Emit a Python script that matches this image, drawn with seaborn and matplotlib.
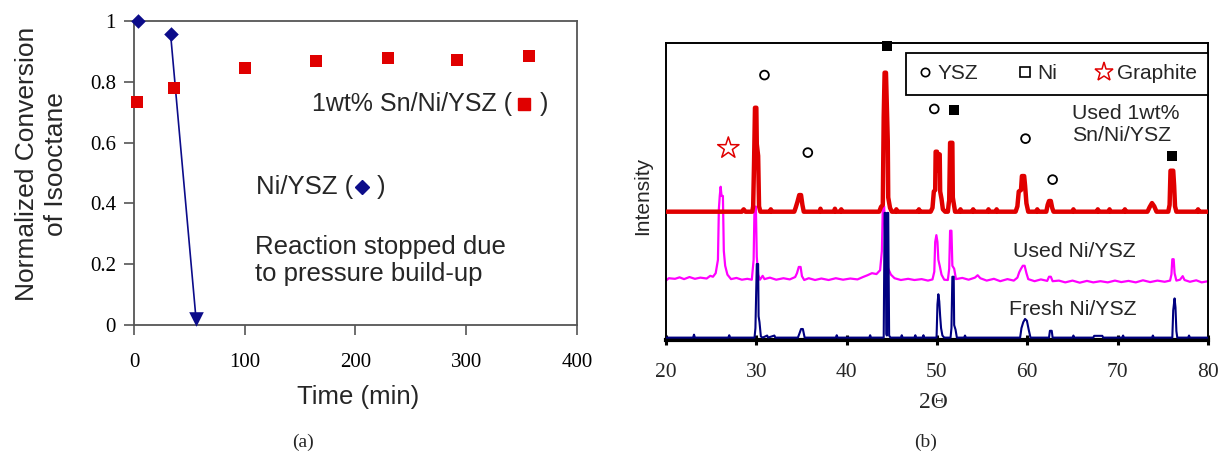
import matplotlib
matplotlib.use("Agg")
import matplotlib.pyplot as plt
from matplotlib.lines import Line2D
import pandas as pd
import seaborn as sns

# ---------------- panel (a): isooctane conversion vs time ----------------
sn_time = [3, 36, 100, 164, 229, 292, 357]
sn_conv = [0.734, 0.781, 0.847, 0.869, 0.878, 0.873, 0.884]
ni_time = [4, 33, 56]
ni_conv = [1.0, 0.958, 0.02]

time_ticks = [0, 100, 200, 300, 400]
conv_ticks = [0, 0.2, 0.4, 0.6, 0.8, 1.0]
conv_tick_labels = ["0", "0.2", "0.4", "0.6", "0.8", "1"]

# ---------------- panel (b): XRD patterns (2-theta, offset intensity) ----------------
sn_used_pattern = [
    (20.0, 43.2), (28.4, 43.2), (28.6, 44.0), (28.8, 43.2),
    (29.55, 43.2), (29.65, 45.0), (29.75, 60.0), (29.85, 78.2), (30.0, 78.2), (30.05, 66.0),
    (30.2, 62.0), (30.3, 45.0), (30.45, 43.2), (31.5, 43.2), (31.6, 44.0), (31.7, 43.2),
    (34.2, 43.2), (34.35, 44.5), (34.55, 46.5), (34.75, 48.8), (34.95, 48.8), (35.1, 45.5), (35.25, 43.2),
    (37.0, 43.2), (37.1, 44.2), (37.2, 43.2), (38.6, 43.2), (38.7, 44.2), (38.8, 43.2),
    (39.3, 43.2), (39.4, 44.0), (39.5, 43.2),
    (43.6, 43.2), (43.8, 44.8), (44.0, 45.5), (44.1, 75.0), (44.2, 90.0), (44.35, 90.0),
    (44.45, 78.0), (44.55, 67.0), (44.6, 48.0), (44.8, 44.5), (45.0, 43.2),
    (45.4, 43.2), (45.5, 44.0), (45.6, 43.2), (47.9, 43.2), (48.0, 44.0), (48.1, 43.2),
    (49.3, 43.2), (49.5, 44.5), (49.65, 50.0), (49.8, 50.5), (49.85, 63.4), (50.0, 63.4),
    (50.05, 57.0), (50.15, 62.5), (50.3, 62.5), (50.35, 50.0), (50.5, 47.5), (50.65, 44.0),
    (50.9, 43.2), (51.2, 43.2), (51.3, 46.0), (51.35, 47.0), (51.45, 66.4), (51.7, 66.4),
    (51.75, 48.0), (51.9, 45.0), (52.0, 43.2),
    (52.5, 43.2), (52.6, 44.0), (52.7, 43.2), (53.9, 43.2), (54.0, 44.0), (54.1, 43.2),
    (55.6, 43.2), (55.7, 44.0), (55.8, 43.2), (56.5, 43.2), (56.6, 44.0), (56.7, 43.2),
    (58.7, 43.2), (58.9, 45.0), (59.05, 50.0), (59.3, 50.5), (59.4, 55.2), (59.65, 55.2),
    (59.75, 52.0), (59.9, 46.0), (60.1, 43.2),
    (61.0, 43.2), (61.1, 44.0), (61.2, 43.2),
    (62.1, 43.2), (62.25, 45.5), (62.4, 46.8), (62.6, 46.8), (62.75, 44.5), (62.9, 43.2),
    (65.0, 43.2), (65.1, 44.0), (65.2, 43.2), (67.7, 43.2), (67.8, 44.0), (67.9, 43.2),
    (69.0, 43.2), (69.1, 44.0), (69.2, 43.2), (70.7, 43.2), (70.8, 44.0), (70.9, 43.2),
    (73.3, 43.2), (73.55, 44.8), (73.8, 46.1), (74.05, 45.0), (74.3, 43.2),
    (75.6, 43.2), (75.75, 45.5), (75.85, 57.0), (76.15, 57.0), (76.25, 52.0), (76.35, 45.0), (76.5, 43.2),
    (78.8, 43.2), (78.9, 44.0), (79.0, 43.2), (80.0, 43.2),
]

ni_used_pattern = [
    (20.0, 20.0), (20.3, 20.8), (21.0, 20.6), (21.5, 21.1), (22.0, 20.5), (22.6, 21.2),
    (23.2, 20.6), (23.8, 21.0), (24.5, 20.7), (24.9, 21.6), (25.2, 21.3), (25.5, 22.5),
    (25.75, 27.0), (25.85, 44.0), (25.95, 48.5), (26.05, 51.6), (26.15, 48.5), (26.3, 48.5),
    (26.4, 30.0), (26.55, 25.0), (26.8, 22.0), (27.2, 20.5), (27.8, 20.9), (28.4, 20.3),
    (29.0, 20.6), (29.5, 20.3),
    (29.7, 27.0), (29.8, 44.9), (29.95, 44.9), (30.05, 28.0), (30.2, 22.0), (30.4, 20.3),
    (30.7, 21.6), (30.9, 20.5), (31.5, 21.0), (32.2, 20.3), (33.0, 20.8), (33.7, 20.4), (34.3, 21.2),
    (34.5, 22.5), (34.7, 24.6), (34.9, 24.6), (35.05, 21.5), (35.3, 20.2), (35.8, 20.8),
    (36.5, 20.2), (37.2, 20.7), (38.0, 20.2), (38.8, 20.8), (39.6, 20.3), (40.4, 20.7),
    (41.2, 20.4), (41.8, 21.2), (42.3, 21.8), (42.8, 22.5), (43.3, 22.2), (43.7, 23.5),
    (43.9, 30.0), (44.0, 45.0), (44.15, 45.0), (44.3, 30.0), (44.45, 26.0), (44.6, 24.0),
    (44.9, 22.0), (45.3, 20.8), (46.0, 20.2), (46.8, 20.6), (47.5, 20.2), (48.3, 20.5),
    (49.0, 20.0), (49.5, 20.4),
    (49.7, 23.0), (49.8, 33.0), (49.93, 35.3), (50.05, 33.0), (50.15, 27.0), (50.3, 25.0),
    (50.5, 22.0), (50.8, 20.3), (51.2, 20.2), (51.35, 24.0),
    (51.45, 36.8), (51.6, 36.8), (51.7, 25.0), (51.9, 24.0), (52.1, 20.5), (52.8, 20.9),
    (53.5, 20.3), (54.2, 21.0), (54.5, 21.8), (54.8, 20.8), (55.5, 20.0), (56.3, 20.6),
    (57.0, 19.8), (57.8, 20.5), (58.5, 20.0), (58.9, 21.0),
    (59.1, 22.8), (59.3, 24.0), (59.5, 25.0), (59.7, 25.0), (59.9, 22.5), (60.1, 20.5),
    (60.8, 19.8), (61.5, 20.4), (62.2, 19.9), (62.4, 21.3), (62.6, 21.3), (62.8, 19.8),
    (63.5, 20.0), (64.2, 19.4), (65.0, 20.0), (65.8, 19.3), (66.6, 19.9), (67.3, 19.4),
    (68.1, 19.8), (68.9, 19.4), (69.7, 20.0), (70.4, 19.5), (71.2, 19.9), (72.0, 19.4),
    (72.8, 20.1), (73.6, 19.5), (74.4, 20.0), (75.2, 19.6), (75.8, 20.0),
    (75.95, 22.0), (76.05, 27.2), (76.2, 27.2), (76.3, 22.5), (76.5, 20.0), (76.9, 20.3),
    (77.2, 21.5), (77.4, 20.2), (78.0, 19.6), (78.7, 20.1), (79.3, 19.4), (80.0, 19.8),
]

ni_fresh_pattern = [
    (20.0, 0.8), (23.0, 0.8), (23.1, 1.8), (23.2, 0.8), (26.9, 0.8), (27.0, 1.6), (27.1, 0.8),
    (29.8, 0.8), (29.9, 4.0), (30.05, 25.6), (30.2, 25.6), (30.25, 8.0), (30.35, 6.0),
    (30.5, 1.2), (30.7, 0.8), (31.2, 1.5), (31.3, 0.8), (32.0, 1.5), (32.1, 0.8),
    (34.6, 0.8), (34.75, 2.0), (34.95, 3.7), (35.15, 3.7), (35.35, 0.8),
    (38.8, 0.8), (38.9, 1.6), (39.0, 0.8), (42.5, 0.8), (42.6, 1.6), (42.7, 0.8),
    (44.1, 0.8), (44.2, 42.8), (44.3, 42.8), (44.4, 2.0), (44.45, 1.5), (44.5, 42.8),
    (44.6, 42.8), (44.7, 1.5), (44.85, 0.8),
    (46.0, 0.8), (46.1, 1.6), (46.2, 0.8), (47.5, 0.8), (47.6, 1.6), (47.7, 0.8),
    (48.4, 0.8), (48.5, 1.6), (48.6, 0.8),
    (49.95, 0.8), (50.05, 12.0), (50.15, 15.4), (50.25, 13.0), (50.35, 8.0), (50.45, 4.0),
    (50.6, 1.5), (50.8, 0.8),
    (51.5, 0.8), (51.6, 4.0), (51.7, 21.3), (51.85, 21.3), (51.9, 5.0), (52.05, 3.5), (52.2, 0.8),
    (53.0, 0.8), (53.1, 1.5), (53.2, 0.8),
    (59.2, 0.8), (59.35, 4.0), (59.55, 6.0), (59.75, 7.1), (59.95, 6.5), (60.15, 3.5), (60.35, 0.8),
    (62.4, 0.8), (62.5, 3.1), (62.7, 3.1), (62.8, 0.8),
    (65.0, 0.8), (65.1, 1.5), (65.2, 0.8), (67.3, 0.8), (67.4, 1.4), (68.3, 1.4), (68.4, 0.8),
    (70.5, 0.8), (70.6, 1.5), (70.7, 0.8), (73.8, 0.8), (73.9, 1.5), (74.0, 0.8),
    (76.05, 0.8), (76.15, 10.0), (76.3, 14.0), (76.4, 11.0), (76.5, 3.0), (76.6, 0.8),
    (77.8, 0.8), (77.9, 1.5), (78.0, 0.8), (80.0, 0.8),
]

# phase markers above the patterns
ysz_2theta = [30.9, 35.7, 49.7, 59.8, 62.8]
ysz_level = [89.2, 63.1, 77.8, 67.8, 54.0]
ni_2theta = [44.5, 51.9, 76.0]
ni_level = [99.0, 77.4, 61.8]
graphite_2theta = [26.9]
graphite_level = [64.6]

two_theta_ticks = [20, 30, 40, 50, 60, 70, 80]

SANS = ["Liberation Sans", "DejaVu Sans"]
SERIF = ["Liberation Serif", "DejaVu Serif"]
RED = "#e00000"
NAVY = "#0c0c8a"
GREY = "#555555"

sns.set_theme(style="white")
plt.rcParams["font.family"] = SANS

fig = plt.figure(figsize=(12.19, 4.51), dpi=100)
ax1 = fig.add_axes([134 / 1219, 1 - 325 / 451, 443 / 1219, 304 / 451])
ax2 = fig.add_axes([666 / 1219, 1 - 340 / 451, 542 / 1219, 297 / 451])

# ---------- panel (a) ----------
sn_df = pd.DataFrame({"time": sn_time, "conv": sn_conv})
ni_df = pd.DataFrame({"time": ni_time, "conv": ni_conv})

sns.lineplot(data=ni_df.iloc[1:], x="time", y="conv", ax=ax1, color=NAVY,
             linewidth=1.2, estimator=None, sort=False, legend=False)
sns.scatterplot(data=ni_df.iloc[:2], x="time", y="conv", ax=ax1, marker="D",
                s=55, color=NAVY, edgecolor=NAVY, linewidth=0, clip_on=False, zorder=5)
sns.scatterplot(data=ni_df.iloc[2:], x="time", y="conv", ax=ax1, marker="v",
                s=110, color=NAVY, edgecolor=NAVY, linewidth=0, clip_on=False, zorder=5)
sns.scatterplot(data=sn_df, x="time", y="conv", ax=ax1, marker="s",
                s=75, color=RED, edgecolor=RED, linewidth=0, clip_on=False, zorder=4)

ax1.set_xlim(0, 400)
ax1.set_ylim(0, 1)
ax1.set_xticks(time_ticks)
ax1.set_xticklabels([str(t) for t in time_ticks], family=SERIF)
ax1.set_yticks(conv_ticks)
ax1.set_yticklabels(conv_tick_labels, family=SERIF)
ax1.tick_params(axis="both", direction="out", length=7, width=1.2, color=GREY,
                labelsize=15, labelcolor="black", left=True, bottom=True)
ax1.tick_params(axis="x", pad=13)
ax1.tick_params(axis="y", pad=6)
for sp in ax1.spines.values():
    sp.set_color(GREY)
    sp.set_linewidth(1.3)

ax1.set_xlabel("Time (min)", fontsize=18.5, family=SANS, va="center", ha="center")
ax1.xaxis.set_label_coords(0.505, -0.237)
ax1.set_ylabel("Normalized Conversion\nof Isooctane", fontsize=19, family=SANS,
               va="center", ha="center", linespacing=1.25)
ax1.yaxis.set_label_coords(-0.208, 0.53)

ax1.text(161, 0.728, "1wt% Sn/Ni/YSZ (", fontsize=18, family=SANS, ha="left", va="center")
ax1.plot([352], [0.728], marker="s", markersize=9, color=RED, linestyle="none")
ax1.text(366, 0.728, ")", fontsize=18, family=SANS, ha="left", va="center")

ax1.text(110, 0.455, "Ni/YSZ (", fontsize=18.5, family=SANS, ha="left", va="center")
ax1.plot([206], [0.455], marker="D", markersize=7, color=NAVY, linestyle="none")
ax1.text(219, 0.455, ")", fontsize=18.5, family=SANS, ha="left", va="center")

ax1.text(109, 0.212, "Reaction stopped due\nto pressure build-up", fontsize=18.5,
         family=SANS, ha="left", va="center", linespacing=1.2)

# ---------- panel (b) ----------
traces = [
    (ni_used_pattern, "#ff00ff", 1.6, 2),
    (ni_fresh_pattern, "#000080", 1.5, 3),
    (sn_used_pattern, RED, 3.2, 4),
]
for pattern, color, lw, z in traces:
    df = pd.DataFrame(pattern, columns=["two_theta", "intensity"])
    sns.lineplot(data=df, x="two_theta", y="intensity", ax=ax2, color=color,
                 linewidth=lw, estimator=None, sort=False, legend=False, zorder=z)

ysz_df = pd.DataFrame({"two_theta": ysz_2theta, "level": ysz_level})
ni_df2 = pd.DataFrame({"two_theta": ni_2theta, "level": ni_level})
gr_df = pd.DataFrame({"two_theta": graphite_2theta, "level": graphite_level})
sns.scatterplot(data=ysz_df, x="two_theta", y="level", ax=ax2, marker="o", s=40,
                facecolor="none", edgecolor="black", linewidth=1.3, zorder=6)
sns.scatterplot(data=ni_df2, x="two_theta", y="level", ax=ax2, marker="s", s=50,
                color="black", edgecolor="black", linewidth=0, clip_on=False, zorder=6)
sns.scatterplot(data=gr_df, x="two_theta", y="level", ax=ax2, marker="*", s=260,
                facecolor="none", edgecolor=RED, linewidth=1.1, zorder=6)

ax2.set_xlim(20, 80)
ax2.set_ylim(0, 100)
ax2.set_yticks([])
ax2.set_xticks(two_theta_ticks)
ax2.set_xticklabels([str(t) for t in two_theta_ticks], family=SERIF)
ax2.tick_params(axis="x", direction="inout", length=7, width=2.2, color="black",
                labelsize=15.5, pad=13, bottom=True)
for name, sp in ax2.spines.items():
    sp.set_color("black")
    sp.set_linewidth(3.0 if name == "bottom" else 1.4)

ax2.set_xlabel("2\u0398", fontsize=17, family=SERIF, va="center", ha="center")
ax2.xaxis.set_label_coords(0.4926, -0.209)
ax2.set_ylabel("Intensity", fontsize=15, family=SANS, va="center", ha="center")
ax2.yaxis.set_label_coords(-0.0424, 0.485)

handles = [
    Line2D([], [], marker="o", markersize=6, markerfacecolor="none", markeredgecolor="black",
           markeredgewidth=1.2, linestyle="none"),
    Line2D([], [], marker="s", markersize=7, markerfacecolor="none", markeredgecolor="black",
           markeredgewidth=1.2, linestyle="none"),
    Line2D([], [], marker="*", markersize=14, markerfacecolor="none", markeredgecolor=RED,
           markeredgewidth=1.1, linestyle="none"),
]
leg = ax2.legend(handles, ["YSZ", "Ni", "Graphite"], ncol=3, loc="upper right",
                 bbox_to_anchor=(1.0, 0.967), frameon=True, fancybox=False,
                 edgecolor="black", framealpha=1, fontsize=15, handlelength=0.7,
                 handletextpad=0.25, columnspacing=1.9, borderpad=0.55, borderaxespad=0)
leg.get_frame().set_linewidth(1.3)
leg.set_zorder(10)

ax2.text(65.0, 72.6, "Used 1wt%\nSn/Ni/YSZ", fontsize=15.3, family=SANS,
         ha="left", va="center", linespacing=1.17)
ax2.text(65.2, 29.9, "Used Ni/YSZ", fontsize=15.3, family=SANS, ha="center", va="center")
ax2.text(65.0, 10.2, "Fresh Ni/YSZ", fontsize=15.3, family=SANS, ha="center", va="center")

fig.text(303 / 1219, 1 - 442 / 451, "(a)", fontsize=14, family=SERIF, ha="center", va="center")
fig.text(926 / 1219, 1 - 442 / 451, "(b)", fontsize=14, family=SERIF, ha="center", va="center")

fig.savefig("out.png", dpi=100, facecolor="white")
